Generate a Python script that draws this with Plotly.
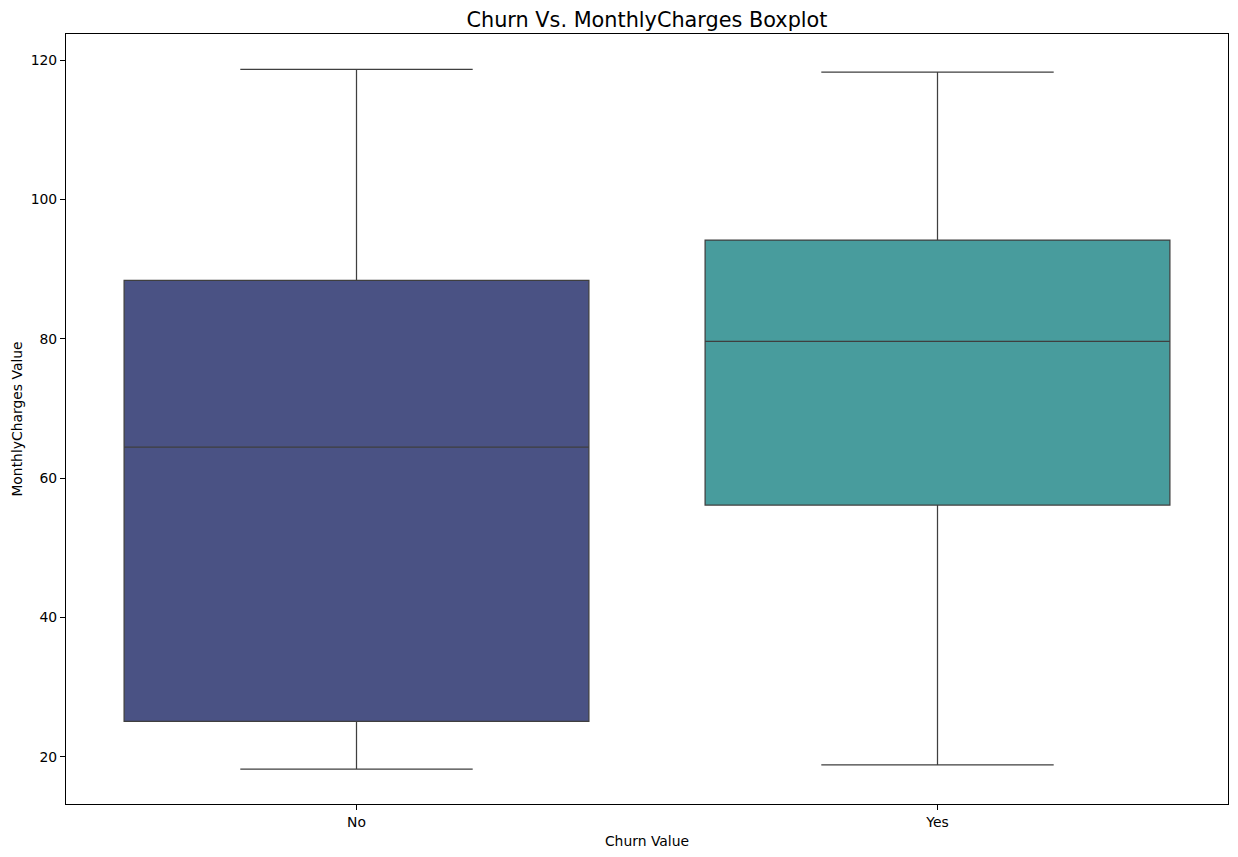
import plotly.graph_objects as go

categories = ["No", "Yes"]
lower_whisker = [18.25, 18.85]
q1_values = [25.1, 56.15]
medians = [64.45, 79.65]
q3_values = [88.4, 94.2]
upper_whisker = [118.7, 118.3]
fill_colors = ["#4a5284", "#489c9d"]

fig = go.Figure()
for i, cat in enumerate(categories):
    fig.add_trace(go.Box(
        x=[cat],
        q1=[q1_values[i]],
        median=[medians[i]],
        q3=[q3_values[i]],
        lowerfence=[lower_whisker[i]],
        upperfence=[upper_whisker[i]],
        fillcolor=fill_colors[i],
        line=dict(color="#3f3f3f", width=1.25),
        width=0.8,
        whiskerwidth=0.5,
        boxpoints=False,
        showlegend=False,
        hoverinfo="skip",
    ))

font = "DejaVu Sans"
fig.update_layout(
    width=1238, height=857,
    margin=dict(l=66, r=10, t=34, b=53),
    paper_bgcolor="white", plot_bgcolor="white",
    boxmode="overlay",
    font=dict(family=font, size=13.9, color="black"),
    title=dict(text="Churn Vs. MonthlyCharges Boxplot", x=0.5, xref="paper",
               y=1, yref="paper", yanchor="bottom", pad=dict(b=7),
               font=dict(family=font, size=20.8, color="black")),
    xaxis=dict(
        type="category", categoryorder="array", categoryarray=categories,
        range=[-0.5, 1.5], showgrid=False, zeroline=False,
        showline=True, linecolor="black", linewidth=1.1, mirror=True,
        ticks="outside", ticklen=5, tickcolor="black", tickwidth=1,
        title=dict(text="Churn Value", standoff=7, font=dict(size=13.9)),
        tickfont=dict(size=13.9),
    ),
    yaxis=dict(
        range=[13.225, 123.775], showgrid=False, zeroline=False,
        showline=True, linecolor="black", linewidth=1.1, mirror=True,
        ticks="outside", ticklen=5, tickcolor="black", tickwidth=1,
        tickvals=[20, 40, 60, 80, 100, 120],
        title=dict(text="MonthlyCharges Value", standoff=4, font=dict(size=13.9)),
        tickfont=dict(size=13.9),
    ),
)

fig.write_html("out.html", config={"displayModeBar": False},
               post_script="document.body.style.margin='0';document.body.style.overflow='hidden';")
